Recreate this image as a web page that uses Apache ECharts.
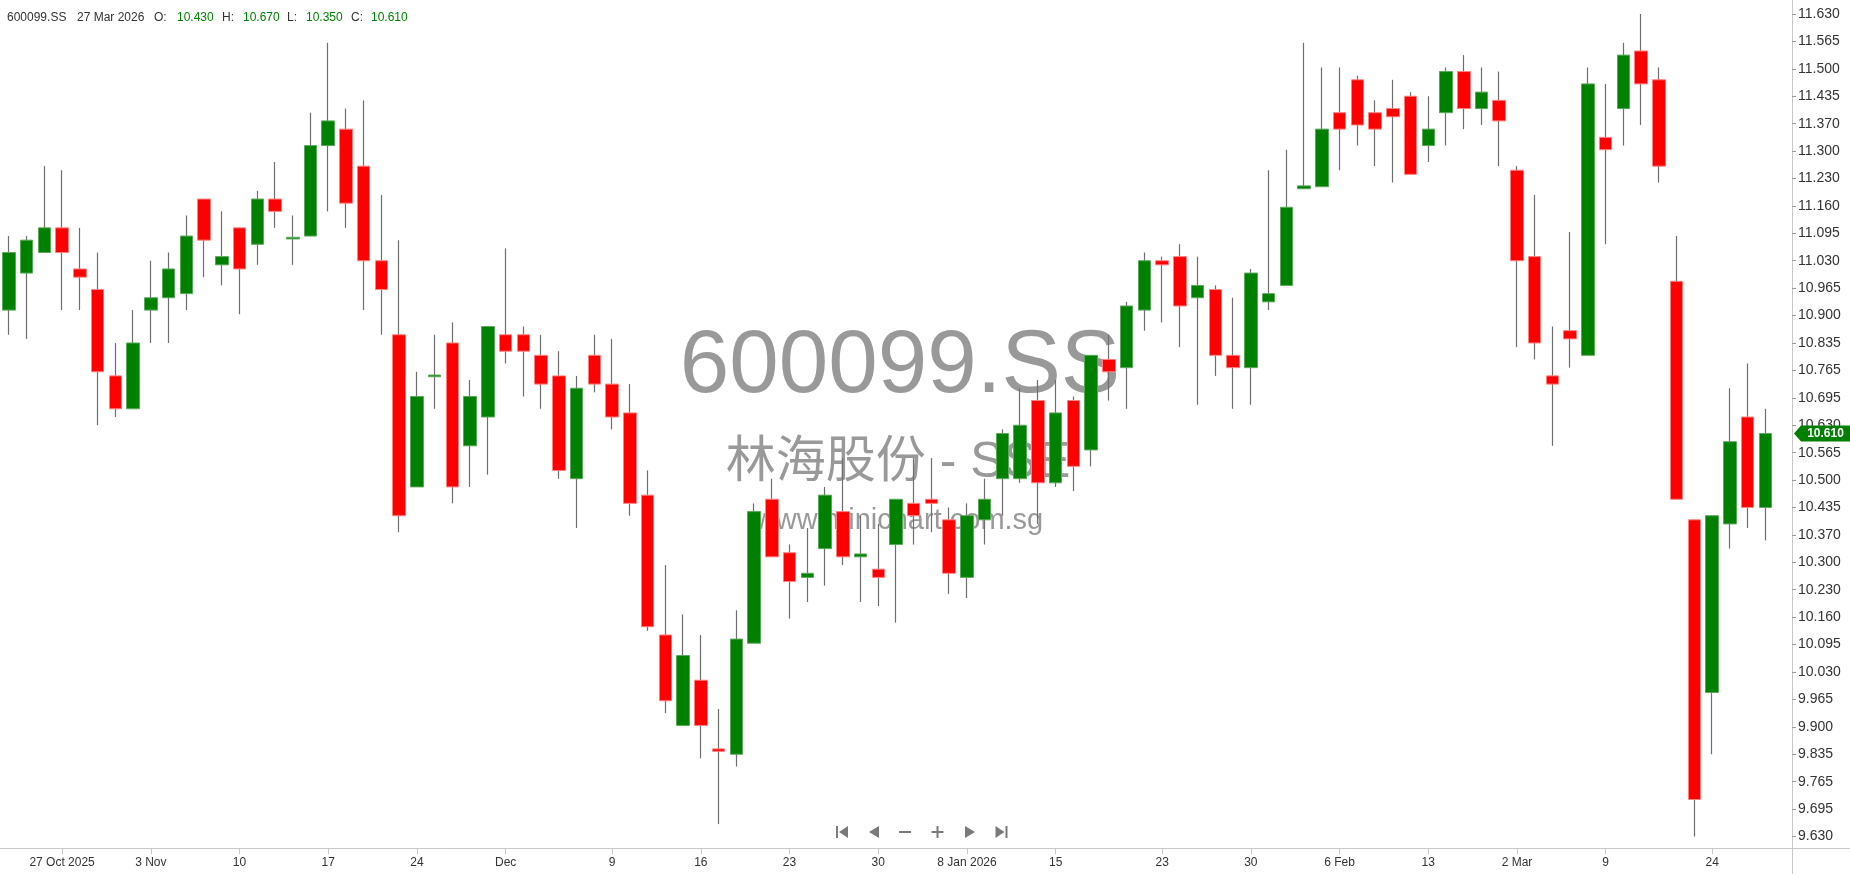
<!DOCTYPE html>
<html>
<head>
<meta charset="utf-8">
<script src="https://cdn.jsdelivr.net/npm/echarts@6/dist/echarts.min.js"></script>
<style>
html,body{margin:0;padding:0;background:#fff;}
#chart{width:1850px;height:874px;}
</style>
</head>
<body>
<div id="chart"></div>
<script>
// ---------------- data ----------------
const symbol = '600099.SS';
const companyLine = '林海股份 - SSE';
const siteLine = 'www.minichart.com.sg';

const dates = ['2025-10-22','2025-10-23','2025-10-24','2025-10-27','2025-10-28','2025-10-29','2025-10-30','2025-10-31',
'2025-11-03','2025-11-04','2025-11-05','2025-11-06','2025-11-07','2025-11-10','2025-11-11','2025-11-12','2025-11-13','2025-11-14','2025-11-17','2025-11-18','2025-11-19','2025-11-20','2025-11-21','2025-11-24','2025-11-25','2025-11-26','2025-11-27','2025-11-28',
'2025-12-01','2025-12-02','2025-12-03','2025-12-04','2025-12-05','2025-12-08','2025-12-09','2025-12-10','2025-12-11','2025-12-12','2025-12-15','2025-12-16','2025-12-17','2025-12-18','2025-12-19','2025-12-22','2025-12-23','2025-12-24','2025-12-25','2025-12-26','2025-12-29','2025-12-30','2025-12-31',
'2026-01-05','2026-01-06','2026-01-07','2026-01-08','2026-01-09','2026-01-12','2026-01-13','2026-01-14','2026-01-15','2026-01-16','2026-01-19','2026-01-20','2026-01-21','2026-01-22','2026-01-23','2026-01-26','2026-01-27','2026-01-28','2026-01-29','2026-01-30',
'2026-02-02','2026-02-03','2026-02-04','2026-02-05','2026-02-06','2026-02-09','2026-02-10','2026-02-11','2026-02-12','2026-02-13','2026-02-24','2026-02-25','2026-02-26','2026-02-27',
'2026-03-02','2026-03-03','2026-03-04','2026-03-05','2026-03-06','2026-03-09','2026-03-10','2026-03-11','2026-03-12','2026-03-13','2026-03-23','2026-03-24','2026-03-25','2026-03-26','2026-03-27'];

const opens = [10.91,11.00,11.05,11.11,11.01,10.96,10.75,10.67,10.91,10.94,
10.95,11.18,11.02,11.11,11.07,11.18,11.083,11.09,11.31,11.35,
11.26,11.03,10.85,10.48,10.748,10.83,10.58,10.65,10.85,10.85,
10.80,10.75,10.50,10.80,10.73,10.66,10.46,10.12,9.90,10.01,
9.843,9.83,10.10,10.45,10.32,10.26,10.33,10.42,10.31,10.28,
10.34,10.44,10.45,10.40,10.26,10.40,10.50,10.50,10.69,10.49,
10.69,10.57,10.79,10.77,10.91,11.03,11.04,10.94,10.96,10.80,
10.77,10.93,10.97,11.205,11.21,11.39,11.47,11.39,11.40,11.43,
11.31,11.39,11.49,11.40,11.42,11.25,11.04,10.75,10.86,10.80,
11.33,11.40,11.54,11.47,10.98,10.40,9.98,10.39,10.65,10.43];

const highs = [11.09,11.09,11.26,11.25,11.11,11.05,10.83,10.91,11.03,11.05,
11.14,11.18,11.15,11.11,11.20,11.27,11.14,11.39,11.56,11.40,
11.42,11.19,11.08,10.76,10.85,10.88,10.74,10.87,11.06,10.87,
10.85,10.81,10.75,10.85,10.84,10.73,10.52,10.29,10.17,10.12,
9.94,10.18,10.44,10.50,10.34,10.38,10.48,10.55,10.41,10.39,
10.45,10.55,10.55,10.43,10.44,10.50,10.62,10.72,10.74,10.74,
10.70,10.80,10.85,10.93,11.05,11.04,11.07,11.04,10.97,10.94,
11.01,11.25,11.30,11.56,11.50,11.50,11.48,11.42,11.47,11.44,
11.43,11.50,11.53,11.50,11.49,11.26,11.19,10.87,11.10,11.50,
11.46,11.56,11.63,11.50,11.09,10.40,10.41,10.72,10.78,10.67];

const lows = [10.85,10.84,11.05,10.91,10.91,10.63,10.65,10.67,10.83,10.83,
10.91,10.99,10.97,10.90,11.02,11.11,11.02,11.09,11.15,11.11,
10.91,10.85,10.37,10.48,10.67,10.44,10.48,10.51,10.78,10.70,
10.67,10.50,10.38,10.71,10.62,10.41,10.13,9.93,9.90,9.82,
9.66,9.80,10.10,10.31,10.16,10.20,10.24,10.29,10.20,10.19,
10.15,10.34,10.37,10.22,10.21,10.34,10.41,10.49,10.39,10.48,
10.47,10.53,10.69,10.67,10.86,10.88,10.82,10.68,10.75,10.67,
10.68,10.91,10.97,11.205,11.21,11.25,11.31,11.26,11.22,11.24,
11.27,11.31,11.35,11.36,11.26,10.82,10.79,10.58,10.77,10.80,
11.07,11.31,11.36,11.22,10.45,9.63,9.83,10.33,10.38,10.35];

const closes = [11.05,11.08,11.11,11.05,10.99,10.76,10.67,10.83,10.94,11.01,
11.09,11.08,11.04,11.01,11.18,11.15,11.087,11.31,11.37,11.17,
11.03,10.96,10.41,10.70,10.752,10.48,10.70,10.87,10.81,10.81,
10.73,10.52,10.72,10.73,10.65,10.44,10.14,9.96,10.07,9.90,
9.837,10.11,10.42,10.31,10.25,10.27,10.46,10.31,10.317,10.26,
10.45,10.41,10.44,10.27,10.41,10.45,10.61,10.63,10.49,10.66,
10.53,10.80,10.76,10.92,11.03,11.02,10.92,10.97,10.80,10.77,
11.00,10.95,11.16,11.212,11.35,11.35,11.36,11.35,11.38,11.24,
11.35,11.49,11.40,11.44,11.37,11.03,10.83,10.73,10.84,11.46,
11.30,11.53,11.46,11.26,10.45,9.72,10.41,10.59,10.43,10.61];

const xTickDates = ['2025-10-27','2025-11-03','2025-11-10','2025-11-17','2025-11-24','2025-12-01','2025-12-09','2025-12-16','2025-12-23','2025-12-30','2026-01-08','2026-01-15','2026-01-23','2026-01-30','2026-02-06','2026-02-13','2026-03-02','2026-03-09','2026-03-24'];
const xTickText = ['27 Oct 2025','3 Nov','10','17','24','Dec','9','16','23','30','8 Jan 2026','15','23','30','6 Feb','13','2 Mar','9','24'];

const yTickLabels = ['9.630','9.695','9.765','9.835','9.900','9.965','10.030','10.095','10.160','10.230','10.300','10.370','10.435','10.500','10.565','10.630','10.695','10.765','10.835','10.900','10.965','11.030','11.095','11.160','11.230','11.300','11.370','11.435','11.500','11.565','11.630'];

// ---------------- layout / style ----------------
const W = 1850, H = 874;
const GRID = {left: 0, right: 58, top: 0, bottom: 26};
const Y_MIN = 9.602, Y_MAX = 11.664;
const UP = '#008000', DOWN = '#ff0000';
const WICK = '#6e6e6e';
const AXIS = '#c8c8c8';
const FONT = "'Liberation Sans', Arial, sans-serif";
const CJKFONT = "'Liberation Sans', 'Noto Sans CJK SC', sans-serif";

const yStart = parseFloat(yTickLabels[0]);
const yEnd = parseFloat(yTickLabels[yTickLabels.length - 1]);
const yStep = (yEnd - yStart) / (yTickLabels.length - 1);
const yTickPos = yTickLabels.map((_, k) => yStart + k * yStep);

const xTickIndex = xTickDates.map(d => dates.indexOf(d));
const categories = dates.concat(['']);   // one empty slot before the price axis

const wickData = dates.map((_, i) => [opens[i], closes[i], lows[i], highs[i]]);
const bodyData = dates.map((_, i) => [opens[i], closes[i], Math.min(opens[i], closes[i]), Math.max(opens[i], closes[i])]);

const MONTHS = ['Jan','Feb','Mar','Apr','May','Jun','Jul','Aug','Sep','Oct','Nov','Dec'];
function fmtDate(s) {
  const p = s.split('-');
  return parseInt(p[2], 10) + ' ' + MONTHS[parseInt(p[1], 10) - 1] + ' ' + p[0];
}

const last = dates.length - 1;
const lastColor = closes[last] >= opens[last] ? UP : DOWN;

function txt(id, text, x, y, size, color, opts) {
  opts = opts || {};
  return {
    type: 'text', id: id, x: x, y: y, z: opts.z != null ? opts.z : 50, silent: true,
    style: {
      text: text, fill: color,
      font: (opts.weight || 'normal') + ' ' + size + 'px ' + (opts.family || FONT),
      align: opts.align || 'left', textAlign: opts.align || 'left',
      verticalAlign: 'middle', textVerticalAlign: 'middle'
    }
  };
}

// header
const headerY = 18;
const graphics = [
  txt('h0', symbol, 7, headerY, 12, '#333'),
  txt('h1', fmtDate(dates[last]), 77, headerY, 12, '#333'),
  txt('h2', 'O:', 154, headerY, 12, '#333'),
  txt('h3', opens[last].toFixed(3), 177, headerY, 12, lastColor),
  txt('h4', 'H:', 222, headerY, 12, '#333'),
  txt('h5', highs[last].toFixed(3), 243, headerY, 12, lastColor),
  txt('h6', 'L:', 287, headerY, 12, '#333'),
  txt('h7', lows[last].toFixed(3), 306, headerY, 12, lastColor),
  txt('h8', 'C:', 351, headerY, 12, '#333'),
  txt('h9', closes[last].toFixed(3), 371, headerY, 12, lastColor),
  // watermark (behind candles)
  txt('w1', symbol, 900, 367, 89, 'rgba(135,135,135,0.85)', {align: 'center', z: 0}),
  txt('w2', companyLine, 898, 463, 50, 'rgba(135,135,135,0.85)', {align: 'center', z: 0, family: CJKFONT}),
  txt('w3', siteLine, 899, 521, 29, 'rgba(135,135,135,0.85)', {align: 'center', z: 0}),
  // axis line extensions
  {type: 'line', id: 'ax1', z: 50, silent: true, shape: {x1: W - GRID.right, y1: H - GRID.bottom + 0.5, x2: W, y2: H - GRID.bottom + 0.5}, style: {stroke: AXIS, lineWidth: 1}},
  {type: 'line', id: 'ax2', z: 50, silent: true, shape: {x1: W - GRID.right + 0.5, y1: H - GRID.bottom, x2: W - GRID.right + 0.5, y2: H}, style: {stroke: AXIS, lineWidth: 1}}
];

// navigation buttons
const NAV = '#7a7a7a', NY = 832;
function poly(id, pts) { return {type: 'polygon', id: id, z: 60, silent: true, shape: {points: pts}, style: {fill: NAV}}; }
function rect(id, x, y, w, h) { return {type: 'rect', id: id, z: 60, silent: true, shape: {x: x, y: y, width: w, height: h}, style: {fill: NAV}}; }
(function () {
  let c = 842;
  graphics.push(rect('n1a', c - 6, NY - 6, 2, 12), poly('n1b', [[c + 6, NY - 6], [c + 6, NY + 6], [c - 3, NY]]));
  c = 874;
  graphics.push(poly('n2', [[c + 5, NY - 6], [c + 5, NY + 6], [c - 5, NY]]));
  c = 905;
  graphics.push(rect('n3', c - 6, NY - 1, 12, 2));
  c = 937.5;
  graphics.push(rect('n4a', c - 6, NY - 1, 12, 2), rect('n4b', c - 1, NY - 6, 2, 12));
  c = 970;
  graphics.push(poly('n5', [[c - 5, NY - 6], [c - 5, NY + 6], [c + 5, NY]]));
  c = 1001.5;
  graphics.push(poly('n6a', [[c - 6, NY - 6], [c - 6, NY + 6], [c + 3, NY]]), rect('n6b', c + 4, NY - 6, 2, 12));
})();

const chart = echarts.init(document.getElementById('chart'), null, {renderer: 'canvas'});

const option = {
  animation: false,
  backgroundColor: '#ffffff',
  grid: {left: GRID.left, right: GRID.right, top: GRID.top, bottom: GRID.bottom, containLabel: false},
  xAxis: {
    type: 'category',
    data: categories,
    boundaryGap: true,
    axisLine: {show: true, lineStyle: {color: AXIS, width: 1}},
    axisTick: {show: true, alignWithLabel: true, length: 6, interval: (idx) => xTickIndex.indexOf(idx) >= 0, lineStyle: {color: AXIS}},
    axisLabel: {
      show: true,
      interval: (idx) => xTickIndex.indexOf(idx) >= 0,
      formatter: (val, idx) => { const k = xTickIndex.indexOf(idx); return k >= 0 ? xTickText[k] : ''; },
      color: '#333', fontSize: 12, fontFamily: FONT, margin: 9
    },
    splitLine: {show: false}
  },
  yAxis: {
    type: 'value',
    position: 'right',
    min: Y_MIN, max: Y_MAX,
    scale: true,
    axisLine: {show: true, lineStyle: {color: AXIS, width: 1}},
    axisTick: {show: true, customValues: yTickPos, length: 4, inside: false, lineStyle: {color: '#9a9a9a'}},
    axisLabel: {
      show: true,
      customValues: yTickPos,
      formatter: (v) => { const k = Math.round((v - yStart) / yStep); return yTickLabels[k] || ''; },
      color: '#333', fontSize: 14, fontFamily: FONT, margin: 6
    },
    splitLine: {show: false}
  },
  graphic: graphics,
  series: [
    {
      type: 'candlestick', name: 'range', data: wickData, barWidth: 1, silent: true, z: 2,
      itemStyle: {color: WICK, color0: WICK, borderColor: WICK, borderColor0: WICK, borderWidth: 1.2}
    },
    {
      type: 'candlestick', name: symbol, data: bodyData, barWidth: 13, z: 3,
      itemStyle: {color: UP, color0: DOWN, borderColor: '#5aa95a', borderColor0: '#ff8080', borderWidth: 1}
    }
  ]
};
chart.setOption(option);

// last price tag on the price axis
const yPix = chart.convertToPixel({yAxisIndex: 0}, closes[last]);
const ax = W - GRID.right;
chart.setOption({
  graphic: [
    {type: 'polygon', id: 'tag', z: 70, silent: true,
     shape: {points: [[ax + 2, yPix], [ax + 9, yPix - 8], [W, yPix - 8], [W, yPix + 8], [ax + 9, yPix + 8]]},
     style: {fill: lastColor}},
    txt('tagt', closes[last].toFixed(3), (ax + 9 + W) / 2, yPix, 12, '#ffffff', {align: 'center', weight: 'bold', z: 71})
  ]
});
</script>
</body>
</html>
